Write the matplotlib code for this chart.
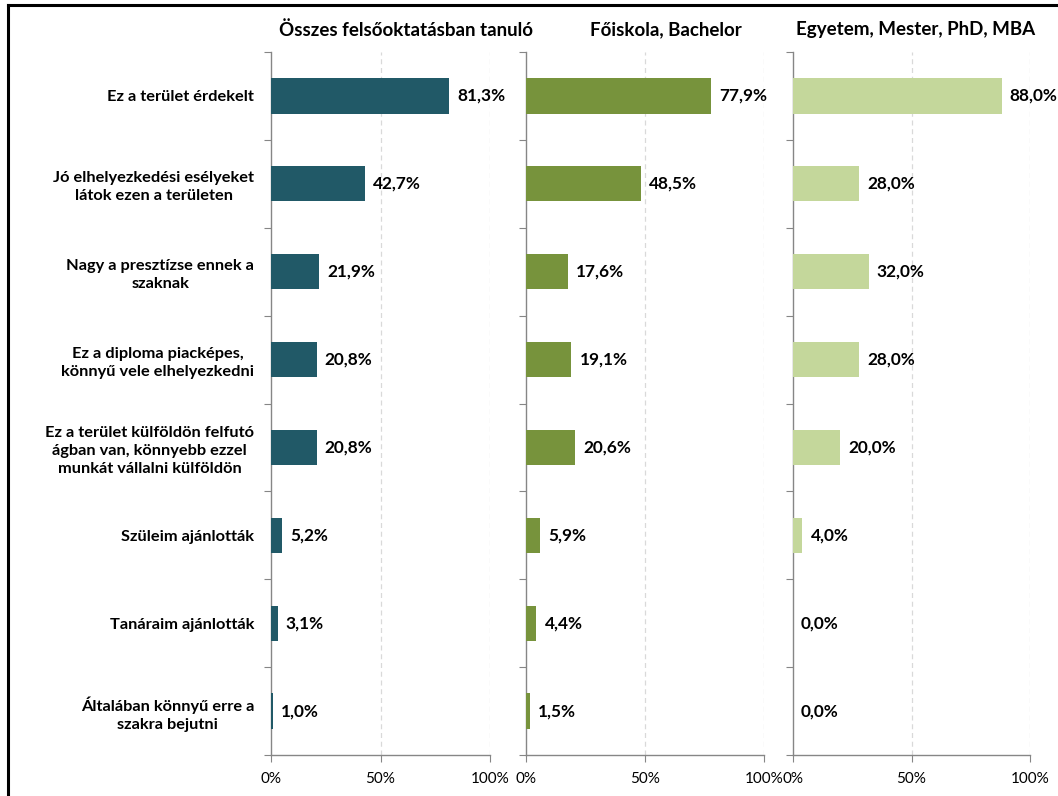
import matplotlib
matplotlib.use("Agg")
import matplotlib.pyplot as plt
from matplotlib.lines import Line2D

plt.rcParams['font.family'] = ['Lato', 'DejaVu Sans']

categories = [
    "Ez a terület érdekelt",
    "Jó elhelyezkedési esélyeket\nlátok ezen a területen",
    "Nagy a presztízse ennek a\nszaknak",
    "Ez a diploma piacképes,\nkönnyű vele elhelyezkedni",
    "Ez a terület külföldön felfutó\nágban van, könnyebb ezzel\nmunkát vállalni külföldön",
    "Szüleim ajánlották",
    "Tanáraim ajánlották",
    "Általában könnyű erre a\nszakra bejutni",
]
panel_titles = ["Összes felsőoktatásban tanuló", "Főiskola, Bachelor", "Egyetem, Mester, PhD, MBA"]
osszes = [81.3, 42.7, 21.9, 20.8, 20.8, 5.2, 3.1, 1.0]
foiskola = [77.9, 48.5, 17.6, 19.1, 20.6, 5.9, 4.4, 1.5]
egyetem = [88.0, 28.0, 32.0, 28.0, 20.0, 4.0, 0.0, 0.0]
series = [osszes, foiskola, egyetem]
colors = ["#215967", "#77933C", "#C4D79B"]
xticks = [0, 50, 100]
xticklabels = ["0%", "50%", "100%"]

W, H = 1058, 796
fig = plt.figure(figsize=(W / 100, H / 100), dpi=100)

extents = [(271, 490), (526, 764), (793, 1030)]
title_centers = [406, 666, 916]
top_px, bot_px = 52, 755

n = len(categories)
for i, (vals, col, title, (l, r), cx) in enumerate(zip(series, colors, panel_titles, extents, title_centers)):
    ax = fig.add_axes([l / W, 1 - bot_px / H, (r - l) / W, (bot_px - top_px) / H])
    ypos = list(range(n))
    ax.barh(ypos, vals, height=0.4, color=col, zorder=3)
    ax.set_xlim(0, 100)
    ax.set_ylim(n - 0.5, -0.5)
    px_per_unit = (r - l) / 100.0
    for y, v in zip(ypos, vals):
        ax.text(v + 8.0 / px_per_unit, y, f"{v:.1f}%".replace(".", ","), va="center", ha="left",
                fontsize=12.4, fontweight="bold", color="black", zorder=4)
    for gx in [50, 100]:
        ax.axvline(gx, color="#D9D9D9", linestyle=(0, (4, 3)), linewidth=0.9, zorder=1)
    for s in ["top", "right"]:
        ax.spines[s].set_visible(False)
    for s in ["left", "bottom"]:
        ax.spines[s].set_color("#868686")
        ax.spines[s].set_linewidth(1.0)
    ax.set_xticks(xticks)
    ax.set_xticklabels(xticklabels, fontsize=11)
    ax.tick_params(axis="x", length=5, color="#868686", pad=7, direction="out")
    ax.set_yticks([k - 0.5 for k in range(n + 1)])
    ax.set_yticklabels([])
    ax.tick_params(axis="y", which="major", length=5, color="#868686", direction="out")
    ax.set_yticks(ypos, minor=True)
    ax.tick_params(axis="y", which="minor", length=0, pad=12)
    if i == 0:
        ax.set_yticklabels(categories, minor=True, fontsize=11.8, fontweight="bold",
                           multialignment="center", linespacing=1.35)
    else:
        ax.set_yticklabels([], minor=True)
    fig.text(cx / W, 1 - 30 / H, title, ha="center", va="center",
             fontsize=13.5, fontweight="bold")

fig.add_artist(Line2D([8 / W, 1.0], [1 - 5 / H, 1 - 5 / H], transform=fig.transFigure,
                      color="black", linewidth=2.2))
fig.add_artist(Line2D([8 / W, 8 / W], [1 - 5 / H, 0.0], transform=fig.transFigure,
                      color="black", linewidth=2.2))

fig.savefig("out.png", dpi=100, facecolor="white")
